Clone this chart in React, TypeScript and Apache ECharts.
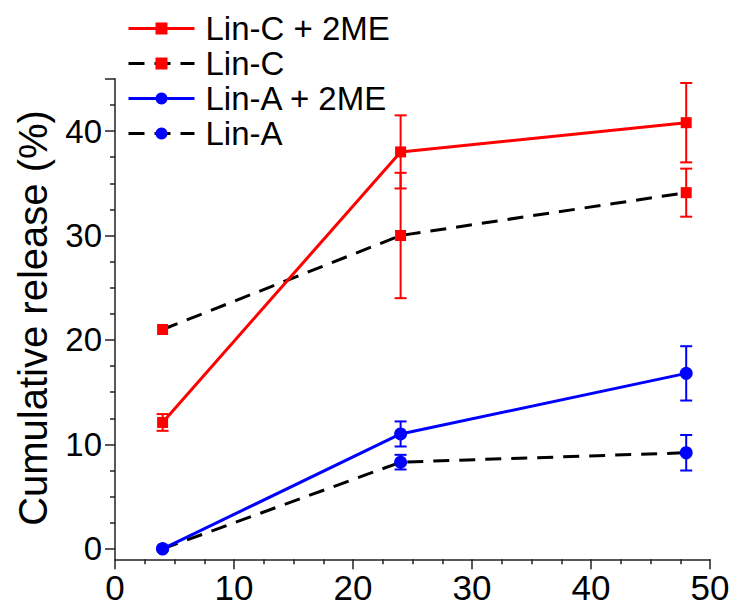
import React, { useEffect, useRef } from "react";
import * as echarts from "echarts";

const times = [4, 24, 48];
const linC2ME = [12.1, 38.0, 40.8];
const linC2MEErr = [0.8, 3.5, 3.8];
const linC = [21.0, 30.0, 34.1];
const linCErr = [0, 6.0, 2.3];
const linA2ME = [0.0, 11.0, 16.8];
const linA2MEErr = [0, 1.2, 2.6];
const linA = [0.0, 8.3, 9.2];
const linAErr = [0, 0.7, 1.7];

const xTicks = [0, 10, 20, 30, 40, 50];
const yLabels = [0, 10, 20, 30, 40];
const yMajorTicks = [0, 10, 20, 30, 40, 45];
const yMinorTicks = [2.5, 5, 7.5, 12.5, 15, 17.5, 22.5, 25, 27.5, 32.5, 35, 37.5, 42.5];

const RED = "#ff0000";
const BLUE = "#0000ff";
const BLACK = "#000000";
const FONT = "'Liberation Sans', Arial, sans-serif";

function errData(vals: number[], errs: number[]) {
  const out: number[][] = [];
  times.forEach((t, i) => {
    if (errs[i] > 0) out.push([t, vals[i] - errs[i], vals[i] + errs[i]]);
  });
  return out;
}

function errSeries(vals: number[], errs: number[], color: string) {
  return {
    type: "custom",
    z: 1,
    silent: true,
    encode: { x: 0, y: [1, 2] },
    data: errData(vals, errs),
    renderItem: (params: any, api: any) => {
      const x = api.value(0);
      const lo = api.value(1);
      const hi = api.value(2);
      const pt = api.coord([x, hi]);
      const pb = api.coord([x, lo]);
      const hw = 6;
      const st = { stroke: color, lineWidth: 2 };
      return {
        type: "group",
        children: [
          { type: "line", shape: { x1: pt[0], y1: pt[1], x2: pb[0], y2: pb[1] }, style: st },
          { type: "line", shape: { x1: pt[0] - hw, y1: pt[1], x2: pt[0] + hw, y2: pt[1] }, style: st },
          { type: "line", shape: { x1: pb[0] - hw, y1: pb[1], x2: pb[0] + hw, y2: pb[1] }, style: st },
        ],
      };
    },
  };
}

function lineSeries(name: string, vals: number[], lineColor: string, markColor: string, dashed: boolean, symbol: string, size: number) {
  return {
    name,
    type: "line",
    z: 3,
    data: times.map((t, i) => [t, vals[i]]),
    symbol,
    symbolSize: size,
    showAllSymbol: true,
    lineStyle: { color: lineColor, width: 3, type: dashed ? [16, 10] : "solid" },
    itemStyle: { color: markColor },
    emphasis: { disabled: true },
  };
}

export default function App() {
  const ref = useRef<HTMLDivElement>(null);
  useEffect(() => {
    if (!ref.current) return;
    const chart = echarts.init(ref.current, null, { renderer: "svg" });
    const axisLine = { show: true, onZero: false, lineStyle: { color: "#222", width: 1.5 } };
    chart.setOption({
      animation: false,
      backgroundColor: "#ffffff",
      grid: { left: 115, right: 25, top: 78.8, bottom: 51.7, containLabel: false },
      legend: {
        orient: "vertical",
        left: 122,
        top: 7,
        itemWidth: 66,
        itemHeight: 15,
        itemGap: 2,
        lineStyle: { width: 3 },
        data: ["Lin-C + 2ME", "Lin-C", "Lin-A + 2ME", "Lin-A"],
        textStyle: { fontSize: 33, lineHeight: 33, color: "#000", fontFamily: FONT, padding: [0, 0, 0, 6] },
      },
      xAxis: {
        type: "value",
        min: 0,
        max: 50,
        interval: 10,
        axisLine,
        axisTick: { show: true, length: 10, lineStyle: { color: "#222", width: 1.5 } },
        minorTick: { show: true, splitNumber: 4, length: 5, lineStyle: { color: "#222", width: 1.5 } },
        splitLine: { show: false },
        axisLabel: { fontSize: 35, color: "#000", fontFamily: FONT, margin: 11, customValues: xTicks },
      },
      yAxis: [
        {
          type: "value",
          min: -1,
          max: 45,
          axisLine,
          axisTick: { show: true, length: 10, customValues: yMajorTicks, lineStyle: { color: "#222", width: 1.5 } },
          splitLine: { show: false },
          axisLabel: { fontSize: 33, color: "#000", fontFamily: FONT, margin: 13, customValues: yLabels },
        },
        {
          type: "value",
          min: -1,
          max: 45,
          position: "left",
          axisLine: { show: false, onZero: false },
          axisTick: { show: true, length: 5, customValues: yMinorTicks, lineStyle: { color: "#222", width: 1.5 } },
          splitLine: { show: false },
          axisLabel: { show: false },
        },
      ],
      graphic: [
        {
          type: "text",
          x: 33,
          y: 318,
          rotation: Math.PI / 2,
          style: {
            text: "Cumulative release (%)",
            fontSize: 40,
            fontFamily: FONT,
            fill: "#000",
            textAlign: "center",
            textVerticalAlign: "middle",
          },
        },
      ],
      series: [
        errSeries(linC2ME, linC2MEErr, RED),
        errSeries(linC, linCErr, RED),
        errSeries(linA2ME, linA2MEErr, BLUE),
        errSeries(linA, linAErr, BLUE),
        lineSeries("Lin-C", linC, BLACK, RED, true, "rect", 11),
        lineSeries("Lin-A", linA, BLACK, BLUE, true, "circle", 13),
        lineSeries("Lin-C + 2ME", linC2ME, RED, RED, false, "rect", 11),
        lineSeries("Lin-A + 2ME", linA2ME, BLUE, BLUE, false, "circle", 13),
      ],
    });
    return () => chart.dispose();
  }, []);
  return <div ref={ref} style={{ width: 735, height: 611, position: "absolute", left: 0, top: 0 }} />;
}
